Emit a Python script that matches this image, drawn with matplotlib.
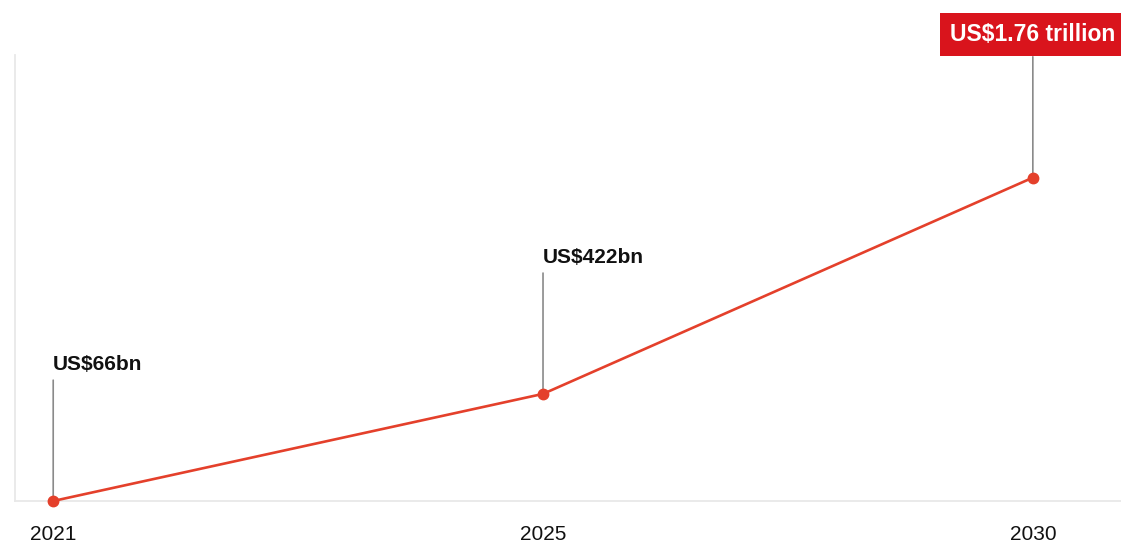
#import used libraries
import numpy as np
from matplotlib import pyplot as plt

# chart data
years = ['2021', '2025', '2030']
market_bn = [66, 422, 1760]          # US$ billions
value_labels = ['US$66bn', 'US$422bn', 'US$1.76 trillion']

#colours
red_line = '#e4402b'
red_box = '#d9141c'
leader_grey = '#8a8a8a'
spine_grey = '#e8e8e8'

plt.rcParams['font.family'] = ['Liberation Sans', 'DejaVu Sans']

#the picture squeezes the values: a power scale reproduces its spacing
def fwd(v):
    return np.sign(v) * np.abs(v) ** 0.6

def inv(v):
    return np.sign(v) * np.abs(v) ** (1 / 0.6)

fig = plt.figure(figsize=(11.21, 5.42), dpi=100)
ax = fig.add_axes([15 / 1121, 41 / 542, 1 - 15 / 1121, 446 / 542])
ax.set_yscale('function', functions=(fwd, inv))

x = np.arange(len(years))
ax.plot(x, market_bn, color=red_line, lw=1.9, marker='o', ms=7.5,
        clip_on=False, zorder=3)

#leader lines + labels (offsets in points)
for i, (v, lab) in enumerate(zip(market_bn, value_labels)):
    ax.annotate('', xy=(i, v), xytext=(0, 87), textcoords='offset points',
                arrowprops=dict(arrowstyle='-', color=leader_grey, lw=1.2,
                                shrinkA=0, shrinkB=0), zorder=2)
    if i < len(years) - 1:
        ax.annotate(lab, xy=(i, v), xytext=(-0.5, 94), textcoords='offset points',
                    ha='left', va='baseline', fontsize=15, fontweight='bold',
                    color='#111111')
    else:
        ax.annotate(lab, xy=(i, v), xytext=(0, 103), textcoords='offset points',
                    ha='center', va='center', fontsize=16.5, fontweight='bold',
                    color='white', annotation_clip=False,
                    bbox=dict(boxstyle='square,pad=0.45', fc=red_box, ec='none'))

ax.set_xlim(-0.078, 2.18)
ax.set_ylim(66, 2818)

ax.set_xticks(x)
ax.set_xticklabels(years, fontsize=15, color='#111111')
ax.tick_params(axis='x', length=0, pad=17)
ax.set_yticks([])
ax.yaxis.set_minor_locator(plt.NullLocator())

for s in ['top', 'right']:
    ax.spines[s].set_visible(False)
for s in ['left', 'bottom']:
    ax.spines[s].set_color(spine_grey)
    ax.spines[s].set_linewidth(1.3)

plt.savefig('out.png', dpi=100)
